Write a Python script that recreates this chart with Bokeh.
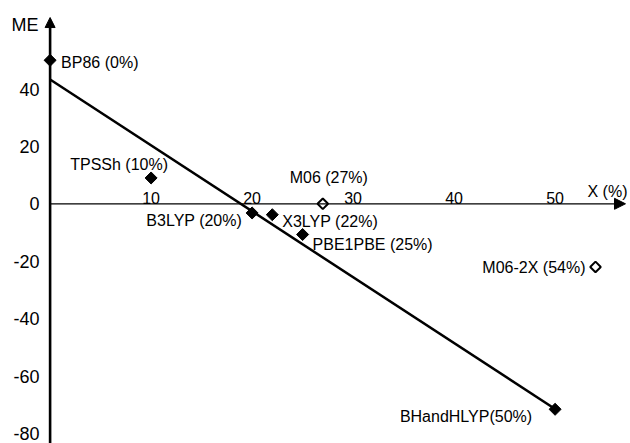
import numpy as np
from bokeh.plotting import figure
from bokeh.models import ColumnDataSource, Range1d, Arrow, NormalHead
from bokeh.core.properties import value
from bokeh.embed import file_html
from bokeh.resources import INLINE

# ---------------- data ----------------
names = ["BP86 (0%)", "TPSSh (10%)", "B3LYP (20%)", "X3LYP (22%)",
         "PBE1PBE (25%)", "M06 (27%)", "M06-2X (54%)", "BHandHLYP(50%)"]
x_pct = [0, 10, 20, 22, 25, 27, 54, 50]
me = [50.0, 9.0, -3.2, -3.8, -10.7, 0.0, -22.0, -71.6]
open_marker = [False, False, False, False, False, True, True, False]

fit_x = [0, 50]
fit_y = [43.3, -71.5]

x_ticks = [10, 20, 30, 40, 50]
y_ticks = [40, 20, 0, -20, -40, -60, -80]
x_label = "X (%)"
y_label = "ME"

# ---------------- layout / style ----------------
FONT = value("Liberation Sans")
lab_align = ["left", "center", "right", "left", "left", "center", "right", "right"]
lab_dx = [11, -32, -10, 10, 10, 6, -10, -23]
lab_dy = [2, -13, 8, 7, 10, -26, 1, 7]

W, H = 630, 443
px_x, px_y = 10.1, 2.87        # pixels per data unit
x0_px, y0_px = 49.6, 203.3     # pixel position of the origin
xs = -x0_px / px_x
ys_top = y0_px / px_y
p = figure(width=W, height=H,
           x_range=Range1d(xs, xs + W / px_x), y_range=Range1d(ys_top - H / px_y, ys_top),
           x_axis_type=None, y_axis_type=None,
           toolbar_location=None, output_backend="svg", min_border=0)
p.outline_line_color = None
p.background_fill_color = "white"
p.border_fill_color = "white"

y_tip = 64.9
x_tip = 56.97

# axes with arrow heads
p.add_layout(Arrow(end=NormalHead(size=10, fill_color="black", line_color="black", line_width=1),
                   x_start=0, y_start=-90, x_end=0, y_end=y_tip,
                   line_width=2.6, line_color="black"))
p.add_layout(Arrow(end=NormalHead(size=11, fill_color="black", line_color="black", line_width=1),
                   x_start=0, y_start=0, x_end=x_tip, y_end=0,
                   line_width=1.3, line_color="black"))

# tick labels
p.text(x=x_ticks, y=[0] * len(x_ticks), text=[str(t) for t in x_ticks],
       text_font=FONT, text_font_size="16px", text_color="black",
       text_align="center", text_baseline="middle", y_offset=-6)
p.text(x=[0] * len(y_ticks), y=y_ticks, text=[str(t) for t in y_ticks],
       text_font=FONT, text_font_size="18px", text_color="black",
       text_align="right", text_baseline="middle", x_offset=-10.5)

# axis titles
p.text(x=[0], y=[y_tip], text=[y_label], text_font=FONT, text_font_size="18px",
       text_color="black", text_align="right", text_baseline="middle",
       x_offset=-11.5, y_offset=7)
p.text(x=[x_tip], y=[0], text=[x_label], text_font=FONT, text_font_size="16px",
       text_color="black", text_align="right", text_baseline="middle",
       x_offset=2, y_offset=-12)

# regression line
p.line(fit_x, fit_y, line_width=2.5, line_color="black")

# points
src = ColumnDataSource(dict(
    x=x_pct, y=me, name=names, align=lab_align, dx=lab_dx, dy=lab_dy,
    fill=["white" if o else "black" for o in open_marker],
    lw=[2.0 if o else 1.0 for o in open_marker],
    sz=[7.5 if o else 8.5 for o in open_marker],
))
p.scatter("x", "y", source=src, marker="square", angle=np.pi / 4, size="sz",
          fill_color="fill", line_color="black", line_width="lw")
p.text("x", "y", text="name", source=src, text_font=FONT, text_font_size="16px",
       text_color="black", text_align="align", text_baseline="middle",
       x_offset="dx", y_offset="dy")

open("out.html", "w").write(file_html(p, INLINE))
